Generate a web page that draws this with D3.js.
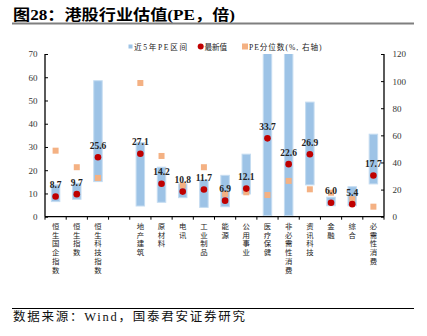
<!DOCTYPE html>
<html><head><meta charset="utf-8">
<script src="https://cdn.jsdelivr.net/npm/d3@7"></script>
<style>body{margin:0;background:#fff}svg{display:block}</style>
</head><body>
<script>
const categories = ["恒生国企指数","恒生指数","恒生科技指数","","地产建筑","原材料","电讯","工业制品","能源","公用事业","医疗保健","非必需性消费","资讯科技","金融","综合","必需性消费"];
const rangeLow  = [6.5, 7.5, 15.1, null, 4.6, 6.2, 8.2, 4.0, 4.3, 9.8, 0.5, 0.5, 13.7, 4.7, 4.7, 14.1];
const rangeHigh = [13.7, 14.4, 58.5, null, 31.9, 21.3, 14.1, 15.8, 17.8, 26.9, 80, 80, 49.3, 8.4, 12.9, 35.5];
const latest    = [8.7, 9.7, 25.6, null, 27.1, 14.2, 10.8, 11.7, 6.9, 12.1, 33.7, 22.6, 26.9, 6.0, 5.4, 17.7];
const percentile= [48.7, 36.5, 28.6, null, 98.6, 44.8, 23.2, 36.5, 16.8, 18.0, 16.0, 26.4, 20.2, 17.7, 12.9, 7.4];
const leftTicks = [0,10,20,30,40,50,60,70];
const rightTicks = [0,20,40,60,80,100,120];

const W=427,H=336;
const svg=d3.select("body").append("svg").attr("width",W).attr("height",H);
const serif="'Liberation Serif','Times New Roman',serif";
const cjk="'Liberation Serif','Noto Sans CJK SC',serif";

// title
svg.append("text").attr("x",13).attr("y",19.5).attr("font-family",cjk).attr("font-weight","bold")
  .attr("font-size",14.5).attr("fill","#000").attr("textLength",222).attr("lengthAdjust","spacingAndGlyphs")
  .text("图28：港股行业估值(PE，倍)");
svg.append("line").attr("x1",12).attr("x2",414).attr("y1",23.5).attr("y2",23.5).attr("stroke","#7f7f7f").attr("stroke-width",2);

// source
svg.append("line").attr("x1",12).attr("x2",414).attr("y1",308.5).attr("y2",308.5).attr("stroke","#000").attr("stroke-width",1);
svg.append("text").attr("x",13).attr("y",320.5).attr("font-family",cjk).attr("font-size",12.5)
  .attr("fill","#111").attr("textLength",232).text("数据来源：Wind，国泰君安证券研究");

const x0=45,x1=384,yTop=54,yBot=216.7;
const x=d3.scaleBand().domain(d3.range(categories.length)).range([x0,x1]).paddingInner(0.6).paddingOuter(0.3);
const yL=d3.scaleLinear().domain([0,70]).range([yBot,yTop]);
const yR=d3.scaleLinear().domain([0,120]).range([yBot,yTop]);

svg.append("defs").append("clipPath").attr("id","clip").append("rect")
  .attr("x",x0).attr("y",yTop).attr("width",x1-x0).attr("height",yBot-yTop);

const idx=d3.range(categories.length).filter(i=>latest[i]!=null);
const g=svg.append("g").attr("clip-path","url(#clip)");
g.selectAll("rect.bar").data(idx).join("rect").attr("class","bar")
  .attr("x",i=>x(i)).attr("width",x.bandwidth())
  .attr("y",i=>yL(rangeHigh[i])).attr("height",i=>yL(rangeLow[i])-yL(rangeHigh[i]))
  .attr("fill","#9DC3E6").attr("stroke","#c5dcf1").attr("stroke-width",1);

const ps=6;
svg.selectAll("rect.pct").data(idx).join("rect").attr("class","pct")
  .attr("x",i=>x(i)+x.bandwidth()/2-ps/2).attr("y",i=>yR(percentile[i])-ps/2)
  .attr("width",ps).attr("height",ps).attr("fill","#F4B183");

svg.selectAll("circle.dot").data(idx).join("circle").attr("class","dot")
  .attr("cx",i=>x(i)+x.bandwidth()/2).attr("cy",i=>yL(latest[i])).attr("r",3.3).attr("fill","#C00000");

svg.selectAll("text.lbl").data(idx).join("text").attr("class","lbl")
  .attr("x",i=>x(i)+x.bandwidth()/2).attr("y",i=>yL(latest[i])-8.5)
  .attr("text-anchor","middle").attr("font-family",serif).attr("font-weight","bold").attr("font-size",9.5)
  .attr("fill","#222").text(i=>latest[i].toFixed(1));

// axes
const axL=svg.append("g").attr("transform",`translate(${x0},0)`)
  .call(d3.axisRight(yL).tickValues(leftTicks).tickSize(3).tickFormat(d3.format("d")));
axL.select(".domain").attr("d",`M0,${yTop}V${yBot}`);
axL.selectAll("text").attr("x",-7.5).attr("text-anchor","end");
const axR=svg.append("g").attr("transform",`translate(${x1},0)`)
  .call(d3.axisLeft(yR).tickValues(rightTicks).tickSize(3).tickFormat(d3.format("d")));
axR.select(".domain").attr("d",`M0,${yTop}V${yBot}`);
axR.selectAll("text").attr("x",8.5).attr("text-anchor","start");
[axL,axR].forEach(a=>{a.selectAll("text").attr("font-family",serif).attr("font-size",9).attr("fill","#333");
  a.select(".domain").attr("stroke","#000").attr("stroke-width",1.3);a.selectAll(".tick line").attr("stroke","#000");});

const axB=svg.append("g").attr("transform",`translate(0,${yBot})`);
axB.append("line").attr("x1",x0).attr("x2",x1).attr("stroke","#000").attr("stroke-width",1.3);
axB.selectAll("line.t").data(d3.range(categories.length+1)).join("line").attr("class","t")
  .attr("x1",i=>x0+i*(x1-x0)/categories.length).attr("x2",i=>x0+i*(x1-x0)/categories.length)
  .attr("y1",0).attr("y2",3).attr("stroke","#000");

// vertical category labels: one character per line
categories.forEach((c,i)=>{
  const cx=x(i)+x.bandwidth()/2;
  Array.from(c).forEach((ch,k)=>{
    svg.append("text").attr("class","cat").attr("x",cx).attr("y",229+k*8.7).attr("text-anchor","middle")
      .attr("font-family","'Liberation Serif','Noto Sans CJK SC',serif")
      .attr("font-size",7.4).attr("fill","#222").text(ch);
  });
});

// legend
const lg=svg.append("g").attr("font-family",cjk).attr("font-size",7.6).attr("fill","#222");
lg.append("rect").attr("x",128.5).attr("y",44.5).attr("width",4).attr("height",4).attr("fill","#9DC3E6");
lg.append("text").attr("x",134).attr("y",49.5).attr("textLength",53).text("近5年PE区间");
lg.append("circle").attr("cx",200.7).attr("cy",46.5).attr("r",3).attr("fill","#C00000");
lg.append("text").attr("x",204.5).attr("y",49.5).attr("textLength",22.5).text("最新值");
lg.append("rect").attr("x",242).attr("y",43.5).attr("width",6).attr("height",6).attr("fill","#F4B183");
lg.append("text").attr("x",249).attr("y",49.5).attr("textLength",72.5).text("PE分位数(%, 右轴)");
</script>
</body></html>
